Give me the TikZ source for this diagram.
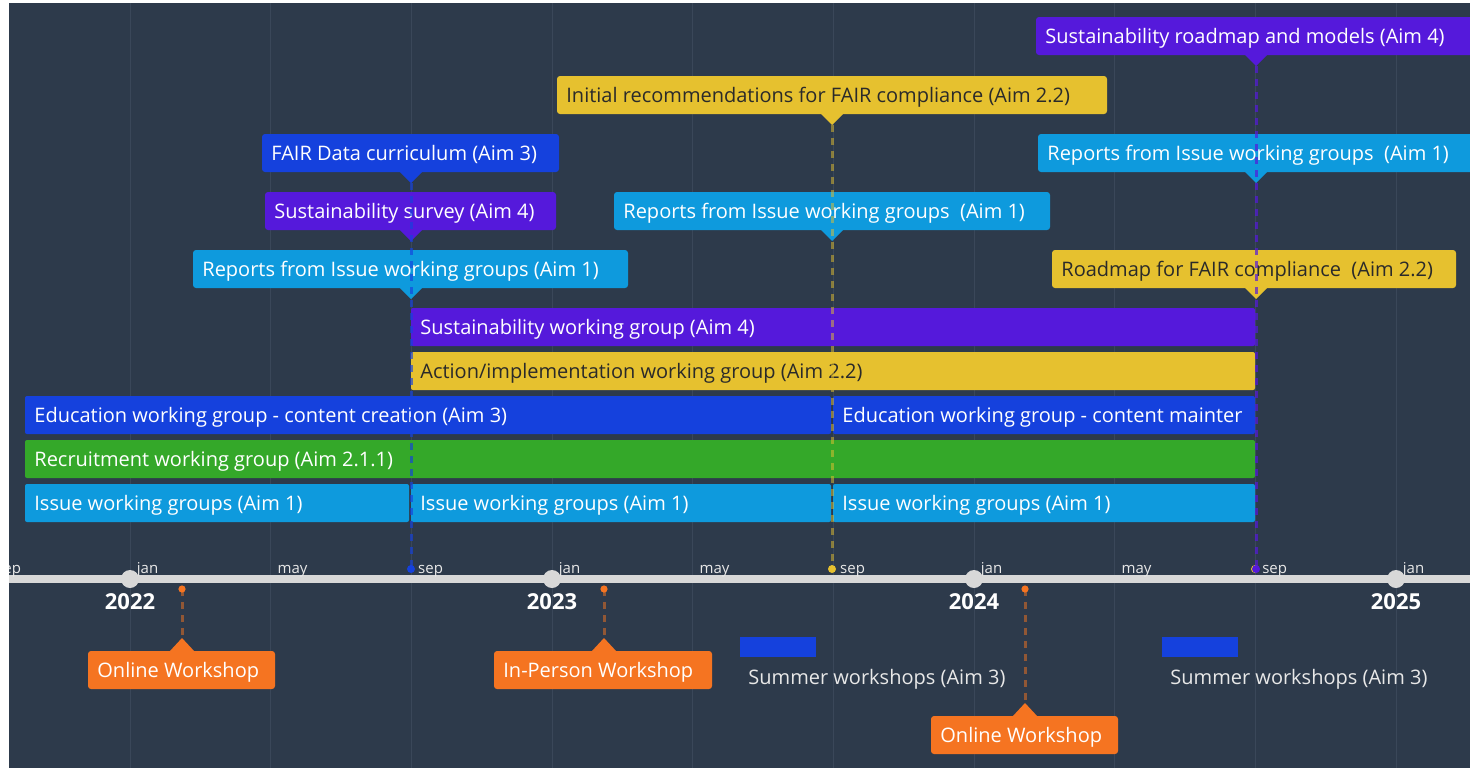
\documentclass[tikz,border=0pt]{standalone}
\usepackage{fontspec}
\setmainfont{Open Sans}
\definecolor{bg}{HTML}{2D3A4B}
\definecolor{gridc}{HTML}{3A4759}
\definecolor{cPurple}{HTML}{5519DB}
\definecolor{cYellow}{HTML}{E6C12F}
\definecolor{cBlue}{HTML}{1541DD}
\definecolor{cGreen}{HTML}{34A829}
\definecolor{cLight}{HTML}{0E9ADD}
\definecolor{cOrange}{HTML}{F57421}
\definecolor{cAxis}{HTML}{D8D8D8}
\definecolor{darktext}{HTML}{2A2A2A}
\definecolor{lighttext}{HTML}{E8E8E8}
\tikzset{
  bartext/.style={anchor=base west, inner sep=0pt, font=\fontsize{10pt}{12pt}\selectfont, text=white},
  monthtext/.style={anchor=base west, inner sep=0pt, font=\fontsize{7.5pt}{9pt}\selectfont, text=lighttext},
  yeartext/.style={anchor=base, inner sep=0pt, font=\fontsize{11pt}{13pt}\selectfont\bfseries, text=white},
  gridline/.style={draw=gridc, line width=0.5pt},
  dashconn/.style={line width=1.5pt, dash pattern=on 3.5pt off 3pt},
}
\newcommand{\gbar}[7]{%
  \fill[#4, rounded corners=1pt] (#1,#3) rectangle (#2,{#3+38});
  \node[bartext, text=#5] (#6) at ({#1+9},{#3+26.5}) {#7};
}
\newcommand{\mstone}[8]{%
  \fill[#5, rounded corners=1.5pt] (#1,#3) rectangle (#2,{#3+38});
  \fill[#5] ({#4-12},{#3+37}) -- (#4,{#3+49}) -- ({#4+12},{#3+37}) -- cycle;
  \node[bartext, text=#6] (#7) at ({#1+9},{#3+26.5}) {#8};
  \coordinate (#7tip) at (#4,{#3+49});
}
\newcommand{\wshop}[6]{%
  \fill[cOrange, rounded corners=1.5pt] (#1,#3) rectangle (#2,{#3+38});
  \fill[cOrange] ({#4-13},{#3+1}) -- (#4,{#3-13}) -- ({#4+13},{#3+1}) -- cycle;
  \node[bartext] (#5) at ({#1+9},{#3+26.5}) {#6};
  \coordinate (#5tip) at (#4,{#3-13});
  \coordinate (#5dot) at (#4,589);
  \draw[cOrange, opacity=0.5, dashconn] (#5dot) -- (#5tip);
  \fill[cOrange] (#5dot) circle (1.8pt);
}
\begin{document}
\begin{tikzpicture}[x=0.5pt,y=-0.5pt]
\useasboundingbox (0,0) rectangle (1470,768);
\fill[white] (0,0) rectangle (1470,768);
\fill[bg] (9,3) rectangle (1470,768);
\begin{scope}
\clip (9,3) rectangle (1470,768);
% grid lines
\foreach \k in {0,...,9} {
  \draw[gridline] ({130+\k*140.667},3) -- ({130+\k*140.667},768);
}
% bars
\gbar{411}{1255}{308}{cPurple}{white}{sw}{Sustainability working group (Aim 4)}
\gbar{411}{1255}{352}{cYellow}{darktext}{aw}{Action/implementation working group (Aim 2.2)}
\gbar{25}{831}{396}{cBlue}{white}{ew1}{Education working group - content creation (Aim 3)}
\gbar{833}{1255}{396}{cBlue}{white}{ew2}{Education working group - content mainter}
\gbar{25}{1255}{440}{cGreen}{white}{rw}{Recruitment working group (Aim 2.1.1)}
\gbar{25}{409}{484}{cLight}{white}{iw1}{Issue working groups (Aim 1)}
\gbar{411}{831}{484}{cLight}{white}{iw2}{Issue working groups (Aim 1)}
\gbar{833}{1255}{484}{cLight}{white}{iw3}{Issue working groups (Aim 1)}
% milestones
\mstone{193}{628}{250}{411}{cLight}{white}{rep1}{Reports from Issue working groups (Aim 1)}
\mstone{265}{556}{192}{411}{cPurple}{white}{ss}{Sustainability survey (Aim 4)}
\mstone{262}{559}{134}{411}{cBlue}{white}{fdc}{FAIR Data curriculum (Aim 3)}
\mstone{557}{1107}{76}{832}{cYellow}{darktext}{irf}{Initial recommendations for FAIR compliance (Aim 2.2)}
\mstone{614}{1050}{192}{832}{cLight}{white}{rep2}{Reports from Issue working groups\ \ (Aim 1)}
\mstone{1036}{1480}{17}{1256}{cPurple}{white}{srm}{Sustainability roadmap and models (Aim 4)}
\mstone{1038}{1480}{134}{1256}{cLight}{white}{rep3}{Reports from Issue working groups\ \ (Aim 1)}
\mstone{1052}{1456}{250}{1256}{cYellow}{darktext}{rfc}{Roadmap for FAIR compliance\ \ (Aim 2.2)}
% axis
\draw[cAxis, line width=4pt] (9,579) -- (1470,579);
\foreach \k/\m in {-1/sep,0/jan,1/may,2/sep,3/jan,4/may,5/sep,6/jan,7/may,8/sep,9/jan} {
  \node[monthtext] (m\k) at ({130+\k*140.667+6.5},573) {\m};
}
\foreach \k/\yr in {0/2022,3/2023,6/2024,9/2025} {
  \fill[cAxis] ({130+\k*140.667},579) circle (4.5pt);
  \node[yeartext] (y\yr) at ({130+\k*140.667},609) {\yr};
}
% milestone connectors
\coordinate (d1) at (411,569);
\coordinate (d2) at (832,569);
\coordinate (d3) at (1256,569);
\draw[cBlue, opacity=0.65, dashconn] (fdctip) -- (d1);
\draw[cYellow, opacity=0.5, dashconn] (irftip) -- (d2);
\draw[cPurple, opacity=0.7, dashconn] (srmtip) -- (d3);
\fill[cBlue] (d1) circle (2pt);
\fill[cYellow] (d2) circle (2pt);
\fill[cYellow] ([xshift=-0.5pt]d3) circle (2pt);
\fill[cPurple] (d3) circle (2pt);
% workshops
\wshop{88}{275}{651}{182}{ow1}{Online Workshop}
\wshop{494}{712}{651}{604}{ipw}{In-Person Workshop}
\wshop{931}{1118}{716}{1025}{ow2}{Online Workshop}
% summer workshops
\fill[cBlue] (740,637) rectangle (816,657);
\node[bartext, text=lighttext] (sw1) at (748,684) {Summer workshops (Aim 3)};
\fill[cBlue] (1162,637) rectangle (1238,657);
\node[bartext, text=lighttext] (sw2) at (1170,684) {Summer workshops (Aim 3)};
\end{scope}
\end{tikzpicture}
\end{document}
